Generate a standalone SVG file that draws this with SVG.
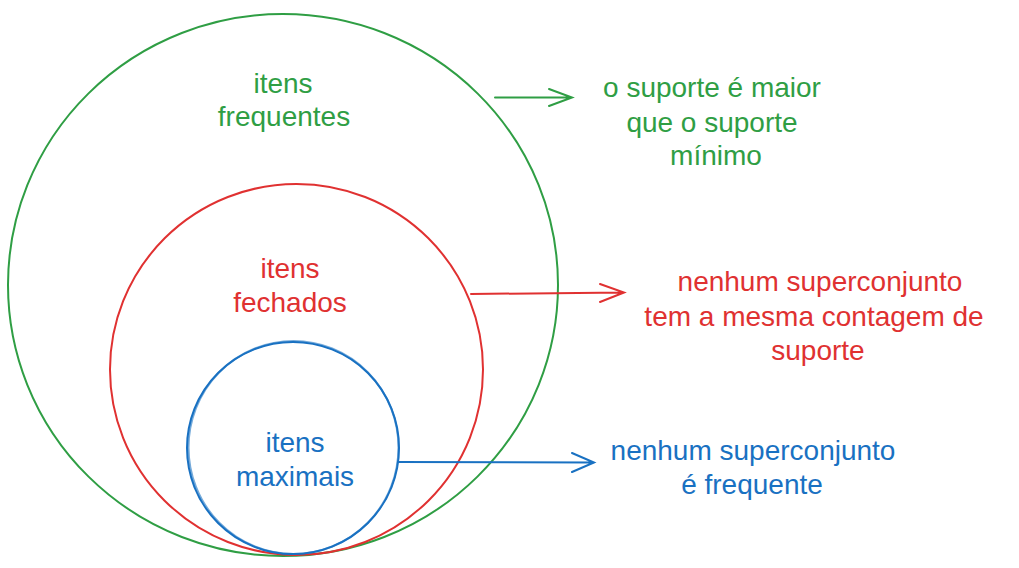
<svg xmlns="http://www.w3.org/2000/svg" width="1019" height="568" viewBox="0 0 1019 568">
<style>
.t{font-family:"Liberation Sans",Arial,sans-serif;font-size:28px;text-anchor:middle}
.g{fill:#2f9e44}.r{fill:#e03131}.b{fill:#1971c2}
.c{fill:none;stroke-width:2;stroke-linecap:round}
.gs{stroke:#2f9e44}.rs{stroke:#e03131}.bs{stroke:#1971c2}
</style>
<rect width="1019" height="568" fill="#ffffff"/>
<g id="frequentes">
<ellipse class="c gs" cx="283" cy="285" rx="275" ry="271"/>
<text class="t g" x="283" y="93">itens</text>
<text class="t g" x="284" y="126">frequentes</text>
</g>
<g id="fechados">
<ellipse class="c rs" cx="296.5" cy="369.5" rx="186.5" ry="185.5"/>
<text class="t r" x="290" y="278">itens</text>
<text class="t r" x="290" y="312">fechados</text>
</g>
<g id="maximais">
<ellipse class="c bs" cx="293" cy="448" rx="106" ry="106"/>
<ellipse class="c bs" cx="293.5" cy="447.5" rx="105" ry="106.5" stroke-width="1" opacity="0.6"/>
<text class="t b" x="295" y="452">itens</text>
<text class="t b" x="295" y="486">maximais</text>
</g>
<g id="connectors">
<path class="c gs" d="M495 97.5 L572 97.5 M549 89 L572 97.5 L549 106"/>
<path class="c rs" d="M471 294 L624 292.5 M600 284 L624 292.5 L600 302"/>
<path class="c bs" d="M398 462 L594 462.5 M572 453 L594 462.5 L572 472"/>
</g>
<g id="label-frequentes">
<text class="t g" x="712" y="97">o suporte é maior</text>
<text class="t g" x="712" y="132">que o suporte</text>
<text class="t g" x="716" y="165">mínimo</text>
</g>
<g id="label-fechados">
<text class="t r" x="820" y="291">nenhum superconjunto</text>
<text class="t r" x="814" y="326">tem a mesma contagem de</text>
<text class="t r" x="818" y="360">suporte</text>
</g>
<g id="label-maximais">
<text class="t b" x="753" y="460">nenhum superconjunto</text>
<text class="t b" x="752" y="494">é frequente</text>
</g>
</svg>
